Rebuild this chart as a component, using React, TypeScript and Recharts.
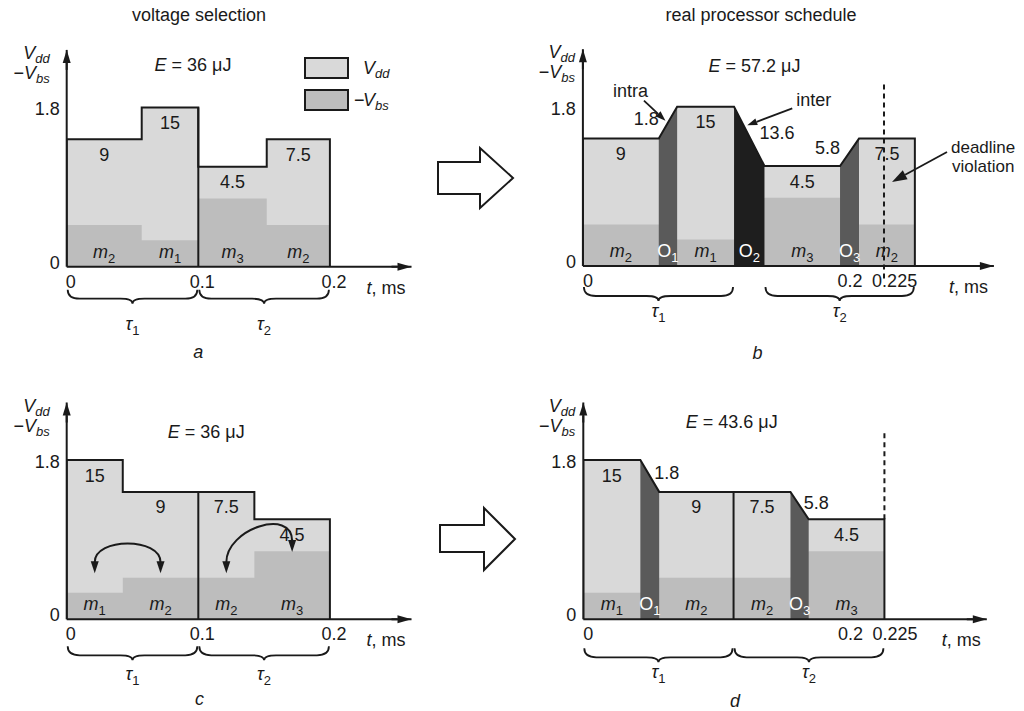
import React from "react";
import {
  ComposedChart,
  Area,
  Line,
  XAxis,
  YAxis,
  ReferenceLine,
  ReferenceDot,
  Legend,
} from "recharts";

const FONT = "'Liberation Sans', Arial, Helvetica, sans-serif";
const INK = "#1a1a1a";
const LIGHT = "#d9d9d9";
const MID = "#bdbdbd";
const OVER = "#5a5a5a";
const OVER_INTER = "#1e1e1e";
const Y_MAX = 2.45;

// a: voltage selection
const aModes = ["m2", "m1", "m3", "m2"];
const aStart = [0, 0.057, 0.1, 0.152];
const aEnd = [0.057, 0.1, 0.152, 0.2];
const aVdd = [1.44, 1.8, 1.13, 1.44];
const aVbs = [0.47, 0.3, 0.77, 0.47];
const aEnergy = ["9", "15", "4.5", "7.5"];

// b: real processor schedule, with transition overheads
const bModes = ["m2", "m1", "m3", "m2"];
const bStart = [0, 0.0626, 0.1206, 0.1834];
const bEnd = [0.0504, 0.1004, 0.1708, 0.2205];
const bVdd = [1.44, 1.8, 1.13, 1.44];
const bVbs = [0.47, 0.3, 0.77, 0.47];
const bEnergy = ["9", "15", "4.5", "7.5"];
const bOver = ["1", "2", "3"];
const bOverKind = ["intra", "inter", "intra"];
const bOverEnergy = ["1.8", "13.6", "5.8"];

// c: reordered voltage selection
const cModes = ["m1", "m2", "m2", "m3"];
const cStart = [0, 0.0426, 0.1, 0.1426];
const cEnd = [0.0426, 0.1, 0.1426, 0.2];
const cVdd = [1.8, 1.44, 1.44, 1.13];
const cVbs = [0.3, 0.47, 0.47, 0.77];
const cEnergy = ["15", "9", "7.5", "4.5"];
// swap arrows in c: block pairs and the levels the arrow ends sit at
const cSwapPairs = [
  [0, 1],
  [2, 3],
];
const cSwapLevels = [
  [0.52, 0.52],
  [0.52, 0.76],
];

// d: reordered real schedule
const dModes = ["m1", "m2", "m2", "m3"];
const dStart = [0, 0.0504, 0.0998, 0.1497];
const dEnd = [0.0379, 0.0998, 0.1376, 0.2];
const dVdd = [1.8, 1.44, 1.44, 1.13];
const dVbs = [0.3, 0.47, 0.47, 0.77];
const dEnergy = ["15", "9", "7.5", "4.5"];
const dOver = ["1", "3"];
const dOverKind = ["intra", "intra"];
const dOverEnergy = ["1.8", "5.8"];

const totalEnergy = ["36", "57.2", "36", "43.6"];
const tauNames = ["1", "2"];
const ticksSel = [0, 0.1, 0.2];
const ticksReal = [0, 0.2, 0.225];

function buildRows(start: number[], end: number[], vdd: number[], vbs: number[], kinds: string[]) {
  const rows: any[] = [{ t: 0, vdd: 0, vbs: 0 }];
  let g = 0;
  for (let i = 0; i < start.length; i++) {
    const gapBefore = i > 0 && start[i] > end[i - 1];
    if (!gapBefore) rows.push({ t: start[i], vdd: vdd[i], vbs: vbs[i] });
    rows.push({ t: end[i], vdd: vdd[i], vbs: vbs[i] });
    if (i + 1 < start.length && start[i + 1] > end[i]) {
      const key = kinds[g++] === "inter" ? "inter" : "intra";
      rows[rows.length - 1][key] = vdd[i];
      rows.push({ t: start[i + 1], vdd: vdd[i + 1], vbs: vbs[i + 1], [key]: vdd[i + 1] });
    }
  }
  rows.push({ t: end[end.length - 1], vdd: 0, vbs: 0 });
  return rows;
}

function Pointer({ x1, y1, x2, y2, head = 10, half = 3.5, w = 1.8 }: any) {
  const dx = x2 - x1;
  const dy = y2 - y1;
  const L = Math.hypot(dx, dy);
  const ux = dx / L;
  const uy = dy / L;
  const bx = x2 - ux * head;
  const by = y2 - uy * head;
  const px = -uy * half;
  const py = ux * half;
  return (
    <g>
      <line x1={x1} y1={y1} x2={bx} y2={by} stroke={INK} strokeWidth={w} />
      <polygon points={`${x2},${y2} ${bx + px},${by + py} ${bx - px},${by - py}`} fill={INK} />
    </g>
  );
}

function SubText({ x, y, main, sub, italic = true, subItalic = false, fill = INK, anchor = "middle", size = 18 }: any) {
  return (
    <text x={x} y={y} textAnchor={anchor} fontFamily={FONT} fontSize={size} fill={fill}>
      <tspan fontStyle={italic ? "italic" : "normal"}>{main}</tspan>
      <tspan fontSize={13} dy={5} fontStyle={subItalic ? "italic" : "normal"}>
        {sub}
      </tspan>
    </text>
  );
}

const txt = { fontFamily: FONT, fontSize: 18, fill: INK };

function LegendBoxes({ payload }: any) {
  const fills: Record<string, string> = { vdd: LIGHT, vbs: MID };
  const seen: Record<string, boolean> = {};
  const items = (payload || [])
    .filter((p: any) => p.type !== "none" && fills[p.dataKey] && !seen[p.dataKey] && (seen[p.dataKey] = true))
    .sort((a: any, b: any) => (a.dataKey === "vdd" ? -1 : b.dataKey === "vdd" ? 1 : 0));
  return (
    <div style={{ fontFamily: FONT, fontSize: 18, color: INK }}>
      {items.map((p: any) => (
        <div key={p.dataKey} style={{ display: "flex", alignItems: "center", height: 32 }}>
          <span
            style={{
              display: "inline-block",
              width: 41,
              height: 18,
              background: fills[p.dataKey],
              border: `2px solid ${INK}`,
            }}
          />
          <span style={{ display: "inline-block", width: 9, marginLeft: 5 }}>
            {p.dataKey === "vbs" ? "−" : ""}
          </span>
          <i>V</i>
          <i style={{ fontSize: 13, position: "relative", top: 5 }}>{p.dataKey === "vbs" ? "bs" : "dd"}</i>
        </div>
      ))}
    </div>
  );
}

function Panel(p: any) {
  const rows = buildRows(p.start, p.end, p.vdd, p.vbs, p.overKind);
  const [cl, ct, cw, ch] = p.box;
  const [pl, pt, pr, pb] = p.plot;
  const margin = { left: pl - cl - 30, top: pt - ct, right: cl + cw - pr, bottom: ct + ch - pb - 30 };
  const bands: any[] = [];
  for (let i = 0; i + 1 < p.start.length; i++) {
    if (p.start[i + 1] > p.end[i]) {
      const k = bands.length;
      bands.push({
        x0: p.end[i],
        x1: p.start[i + 1],
        y0: p.vdd[i],
        y1: p.vdd[i + 1],
        name: p.over[k],
        kind: p.overKind[k],
        energy: p.overEnergy[k],
      });
    }
  }
  const tasks = [
    [p.start[0], p.end[1]],
    [p.start[2], p.end[3]],
  ];
  const joint = p.end[1] === p.start[2];
  const mid = (i: number) => (p.start[i] + p.end[i]) / 2;

  const xTick = (t: any) => (
    <text x={t.x + p.tickShift(t.payload.value)} y={t.y + 19} textAnchor="middle" {...txt}>
      {t.payload.value}
    </text>
  );
  const yTick = (t: any) => (
    <text x={t.x - 5} y={t.y + (t.payload.value === 0 ? 2 : 8)} textAnchor="end" {...txt}>
      {t.payload.value}
    </text>
  );

  return (
    <div style={{ position: "absolute", left: cl, top: ct }}>
      <ComposedChart width={cw} height={ch} data={rows} margin={margin}>
        <XAxis
          dataKey="t"
          type="number"
          domain={[0, p.xMax]}
          ticks={p.ticks}
          interval={0}
          height={30}
          tickSize={0}
          tickLine={false}
          axisLine={{ stroke: INK, strokeWidth: 2 }}
          tick={xTick}
          allowDataOverflow
        />
        <YAxis
          type="number"
          domain={[0, Y_MAX]}
          ticks={[0, 1.8]}
          interval={0}
          width={30}
          tickSize={0}
          tickLine={false}
          axisLine={{ stroke: INK, strokeWidth: 2 }}
          tick={yTick}
          allowDataOverflow
        />
        <Area dataKey="vdd" name="Vdd" type="linear" fill={LIGHT} fillOpacity={1} stroke="none" isAnimationActive={false} />
        <Area dataKey="vbs" name="-Vbs" type="linear" fill={MID} fillOpacity={1} stroke="none" isAnimationActive={false} />
        <Area dataKey="intra" type="linear" fill={OVER} fillOpacity={1} stroke="none" legendType="none" isAnimationActive={false} />
        <Area dataKey="inter" type="linear" fill={OVER_INTER} fillOpacity={1} stroke="none" legendType="none" isAnimationActive={false} />
        <Line
          dataKey="vdd"
          type="linear"
          stroke={INK}
          strokeWidth={2}
          strokeLinejoin="miter"
          dot={false}
          activeDot={false}
          legendType="none"
          isAnimationActive={false}
        />
        {p.legend && (
          <Legend
            layout="horizontal"
            verticalAlign="middle"
            align="center"
            content={<LegendBoxes />}
            wrapperStyle={{ left: 304, top: 52, width: 120 }}
          />
        )}
        {joint && (
          <ReferenceLine
            segment={[
              { x: p.end[1], y: 0 },
              { x: p.end[1], y: Math.max(p.vdd[1], p.vdd[2]) },
            ]}
            stroke={INK}
            strokeWidth={2}
            ifOverflow="visible"
          />
        )}
        {p.deadline && (
          <ReferenceLine
            segment={[
              { x: p.deadline[0], y: p.deadline[1] },
              { x: p.deadline[0], y: p.deadline[2] },
            ]}
            stroke={INK}
            strokeWidth={2}
            strokeDasharray="5 4"
            ifOverflow="visible"
          />
        )}
        {p.swaps &&
          p.swaps.map((pair: number[], i: number) => (
            <ReferenceLine
              key={"swap" + i}
              segment={[
                { x: mid(pair[0]), y: p.swapLevels[i][0] },
                { x: mid(pair[1]), y: p.swapLevels[i][1] },
              ]}
              ifOverflow="visible"
              shape={(s: any) => {
                const lift = 36 + (s.y1 - s.y2) * 0.4;
                const hd = 11;
                const a1 = s.y1 - hd;
                const a2 = s.y2 - hd;
                return (
                  <g>
                    <path
                      d={`M${s.x1},${a1} C${s.x1},${s.y1 - lift} ${s.x2},${s.y2 - lift} ${s.x2},${a2}`}
                      fill="none"
                      stroke={INK}
                      strokeWidth={2}
                    />
                    <polygon points={`${s.x1},${s.y1} ${s.x1 - 4},${a1 - 1} ${s.x1 + 4},${a1 - 1}`} fill={INK} />
                    <polygon points={`${s.x2},${s.y2} ${s.x2 - 4},${a2 - 1} ${s.x2 + 4},${a2 - 1}`} fill={INK} />
                  </g>
                );
              }}
            />
          ))}
        {tasks.map((r, i) => (
          <ReferenceLine
            key={"tau" + i}
            segment={[
              { x: r[0], y: 0 },
              { x: r[1], y: 0 },
            ]}
            ifOverflow="visible"
            shape={(s: any) => {
              const x1 = s.x1 + 1;
              const x2 = s.x2 - 1;
              const xm = (x1 + x2) / 2;
              const y0 = s.y1 + p.braceDy;
              const y1 = y0 + 9;
              const y2 = y0 + 14;
              const q = 12;
              return (
                <g>
                  <path
                    d={`M${x1},${y0} Q${x1},${y1} ${x1 + q},${y1} L${xm - q},${y1} Q${xm},${y1} ${xm},${y2} Q${xm},${y1} ${xm + q},${y1} L${x2 - q},${y1} Q${x2},${y1} ${x2},${y0}`}
                    fill="none"
                    stroke={INK}
                    strokeWidth={1.8}
                  />
                  <SubText x={xm} y={s.y1 + p.tauDy} main="τ" sub={tauNames[i]} />
                </g>
              );
            }}
          />
        ))}
        <ReferenceDot
          x={0}
          y={Y_MAX}
          r={1}
          ifOverflow="visible"
          shape={(s: any) => (
            <g>
              <Pointer x1={s.cx} y1={s.cy + 20} x2={s.cx} y2={s.cy} head={13} half={4} w={2} />
              <text x={s.cx + p.yLabelDx} y={s.cy + 9} textAnchor="end" {...txt}>
                <tspan fontStyle="italic">V</tspan>
                <tspan fontStyle="italic" fontSize={13} dy={4}>
                  dd
                </tspan>
              </text>
              <text x={s.cx + p.yLabelDx} y={s.cy + 29} textAnchor="end" {...txt}>
                <tspan>−</tspan>
                <tspan fontStyle="italic">V</tspan>
                <tspan fontStyle="italic" fontSize={13} dy={4}>
                  bs
                </tspan>
              </text>
            </g>
          )}
        />
        <ReferenceDot
          x={p.xMax}
          y={0}
          r={1}
          ifOverflow="visible"
          shape={(s: any) => (
            <g>
              <Pointer x1={s.cx - 20} y1={s.cy} x2={s.cx} y2={s.cy} head={14} half={4} w={2} />
              <text x={s.cx - 6} y={s.cy + 27} textAnchor="end" {...txt}>
                <tspan fontStyle="italic">t</tspan>, ms
              </text>
            </g>
          )}
        />
        <ReferenceDot
          x={p.ePos[0]}
          y={p.ePos[1]}
          r={1}
          ifOverflow="visible"
          shape={(s: any) => (
            <text x={s.cx} y={s.cy + 6.5} textAnchor="middle" {...txt}>
              <tspan fontStyle="italic">E</tspan>
              {` = ${p.total} μJ`}
            </text>
          )}
        />
        <ReferenceDot
          x={p.letterX}
          y={0}
          r={1}
          ifOverflow="visible"
          shape={(s: any) => (
            <text x={s.cx} y={s.cy + p.letterDy} textAnchor="middle" fontStyle="italic" {...txt}>
              {p.letter}
            </text>
          )}
        />
        {p.modes.map((m: string, i: number) => (
          <ReferenceDot
            key={"blk" + i}
            x={mid(i)}
            y={p.vdd[i]}
            r={1}
            ifOverflow="visible"
            shape={(s: any) => (
              <text x={s.cx} y={s.cy + 21.5} textAnchor="middle" {...txt}>
                {p.energy[i]}
              </text>
            )}
          />
        ))}
        {p.modes.map((m: string, i: number) => (
          <ReferenceDot
            key={"mode" + i}
            x={mid(i)}
            y={0}
            r={1}
            ifOverflow="visible"
            shape={(s: any) => <SubText x={s.cx} y={s.cy - 9} main="m" sub={m.slice(1)} />}
          />
        ))}
        {bands.map((b: any, i: number) => (
          <ReferenceDot
            key={"ov" + i}
            x={(b.x0 + b.x1) / 2}
            y={0}
            r={1}
            ifOverflow="visible"
            shape={(s: any) => <SubText x={s.cx} y={s.cy - 9} main="O" sub={b.name} italic={false} fill="#ffffff" />}
          />
        ))}
        {bands.map((b: any, i: number) => {
          const rising = b.y1 > b.y0;
          return (
            <ReferenceDot
              key={"ovE" + i}
              x={rising ? b.x0 : b.x1}
              y={(b.y0 + b.y1) / 2}
              r={1}
              ifOverflow="visible"
              shape={(s: any) =>
                rising ? (
                  <text x={s.cx} y={s.cy + 2} textAnchor="end" {...txt}>
                    {b.energy}
                  </text>
                ) : (
                  <text x={s.cx - 5} y={s.cy + 3} textAnchor="start" {...txt}>
                    {b.energy}
                  </text>
                )
              }
            />
          );
        })}
        {p.notes &&
          bands.slice(0, 2).map((b: any, i: number) => (
            <ReferenceDot
              key={"note" + i}
              x={(b.x0 + b.x1) / 2}
              y={(b.y0 + b.y1) / 2}
              r={1}
              ifOverflow="visible"
              shape={(s: any) =>
                b.kind === "intra" ? (
                  <g>
                    <Pointer x1={s.cx - 24} y1={s.cy - 22} x2={s.cx - 2.5} y2={s.cy - 2} />
                    <text x={s.cx - 37.5} y={s.cy - 26} textAnchor="middle" {...txt}>
                      intra
                    </text>
                  </g>
                ) : (
                  <g>
                    <Pointer x1={s.cx + 43} y1={s.cy - 28} x2={s.cx - 2} y2={s.cy - 11} />
                    <text x={s.cx + 47} y={s.cy - 30} textAnchor="start" {...txt}>
                      inter
                    </text>
                  </g>
                )
              }
            />
          ))}
        {p.notes && (
          <ReferenceDot
            x={p.deadline[0]}
            y={0.95}
            r={1}
            ifOverflow="visible"
            shape={(s: any) => (
              <g>
                <Pointer x1={s.cx + 63} y1={s.cy - 30} x2={s.cx + 8} y2={s.cy} head={15} half={5} />
                <text x={s.cx + 67} y={s.cy - 29} textAnchor="start" {...txt} fontSize={17}>
                  deadline
                </text>
                <text x={s.cx + 68} y={s.cy - 10} textAnchor="start" {...txt} fontSize={17}>
                  violation
                </text>
              </g>
            )}
          />
        )}
      </ComposedChart>
    </div>
  );
}

const panelA = {
  box: [0, 0, 512, 370],
  plot: [66.7, 49.9, 411.5, 266.7],
  xMax: 0.262,
  ticks: ticksSel,
  tickShift: () => 4,
  modes: aModes,
  start: aStart,
  end: aEnd,
  vdd: aVdd,
  vbs: aVbs,
  energy: aEnergy,
  over: [],
  overKind: [],
  overEnergy: [],
  total: totalEnergy[0],
  ePos: [0.096, 2.28],
  letter: "a",
  letterX: 0.1,
  braceDy: 23,
  tauDy: 63,
  letterDy: 91,
  yLabelDx: -17,
  legend: true,
};

const realShift = (v: number) => (v === 0 ? 5 : v === 0.2 ? -34 : -27);

const panelB = {
  box: [512, 0, 512, 370],
  plot: [582.9, 49.2, 993.9, 266],
  xMax: 0.273,
  ticks: ticksReal,
  tickShift: realShift,
  modes: bModes,
  start: bStart,
  end: bEnd,
  vdd: bVdd,
  vbs: bVbs,
  energy: bEnergy,
  over: bOver,
  overKind: bOverKind,
  overEnergy: bOverEnergy,
  total: totalEnergy[1],
  ePos: [0.114, 2.27],
  letter: "b",
  letterX: 0.116,
  braceDy: 21,
  tauDy: 51,
  letterDy: 93,
  yLabelDx: -8,
  deadline: [0.2, -0.14, 2.08],
  notes: true,
};

const panelC = {
  box: [0, 355, 512, 356],
  plot: [66.7, 402.5, 411.5, 619.3],
  xMax: 0.262,
  ticks: ticksSel,
  tickShift: () => 4,
  modes: cModes,
  start: cStart,
  end: cEnd,
  vdd: cVdd,
  vbs: cVbs,
  energy: cEnergy,
  over: [],
  overKind: [],
  overEnergy: [],
  total: totalEnergy[2],
  ePos: [0.106, 2.12],
  letter: "c",
  letterX: 0.101,
  braceDy: 27,
  tauDy: 61,
  letterDy: 86,
  yLabelDx: -17,
  swaps: cSwapPairs,
  swapLevels: cSwapLevels,
};

const panelD = {
  box: [512, 355, 512, 356],
  plot: [583.3, 402.5, 986.8, 619.3],
  xMax: 0.268,
  ticks: ticksReal,
  tickShift: realShift,
  modes: dModes,
  start: dStart,
  end: dEnd,
  vdd: dVdd,
  vbs: dVbs,
  energy: dEnergy,
  over: dOver,
  overKind: dOverKind,
  overEnergy: dOverEnergy,
  total: totalEnergy[3],
  ePos: [0.0986, 2.24],
  letter: "d",
  letterX: 0.1007,
  braceDy: 29,
  tauDy: 59,
  letterDy: 88,
  yLabelDx: -8,
  deadline: [0.2, 1.13, 2.12],
};

export default function App() {
  return (
    <div
      style={{
        position: "absolute",
        left: 0,
        top: 0,
        width: 1024,
        height: 711,
        background: "#fff",
        overflow: "hidden",
        fontFamily: FONT,
      }}
    >
      <svg width={1024} height={711} style={{ position: "absolute", left: 0, top: 0 }}>
        <text x={199} y={21} textAnchor="middle" {...txt}>
          voltage selection
        </text>
        <text x={761} y={21} textAnchor="middle" {...txt}>
          real processor schedule
        </text>
        <polygon
          points="438,162 480,162 480,148 513,178 480,208 480,194 438,194"
          fill="#fff"
          stroke={INK}
          strokeWidth={2}
        />
        <polygon
          points="440,525 484,525 484,508 515,539 484,570 484,552 440,552"
          fill="#fff"
          stroke={INK}
          strokeWidth={2}
        />
      </svg>
      <Panel {...panelA} />
      <Panel {...panelB} />
      <Panel {...panelC} />
      <Panel {...panelD} />
    </div>
  );
}
